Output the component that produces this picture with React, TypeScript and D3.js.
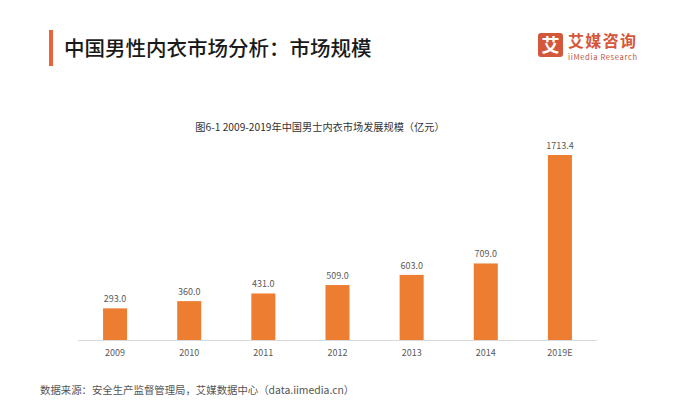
import React from "react";
import * as d3 from "d3";

const categories = ["2009", "2010", "2011", "2012", "2013", "2014", "2019E"];
const values = [293.0, 360.0, 431.0, 509.0, 603.0, 709.0, 1713.4];
const title = "中国男性内衣市场分析：市场规模";
const chartTitle = "图6-1 2009-2019年中国男士内衣市场发展规模（亿元）";
const source = "数据来源：安全生产监督管理局，艾媒数据中心（data.iimedia.cn）";

const W = 682;
const H = 405;
const baseY = 340;
const topY = 155;

export default function App() {
  const x = d3.scaleBand<string>().domain(categories).range([78, 597]).paddingInner(0.676).paddingOuter(0.338);
  const y = d3.scaleLinear().domain([0, 1713.4]).range([baseY, topY]);
  const font = "'Noto Sans CJK SC', 'Noto Sans', sans-serif";
  return (
    <svg width={W} height={H} style={{ position: "absolute", left: 0, top: 0, background: "#fff" }} fontFamily={font}>
      <rect x={0} y={0} width={W} height={H} fill="#fff" />
      <rect x={49} y={30} width={4} height={36} fill="#E8633A" />
      <text x={64} y={56} fontSize={20.5} fontWeight={500} fill="#1a1a1a">{title}</text>
      {/* logo */}
      <rect x={538} y={33} width={25} height={24} rx={3} fill="#D4573B" />
      <text x={550.5} y={52} fontSize={18} fontWeight={700} fill="#fff" textAnchor="middle">艾</text>
      <text x={568} y={46.5} fontSize={16} fontWeight={700} fill="#D4573B" textLength={68}>艾媒咨询</text>
      <text x={568} y={60} fontSize={7.5} fill="#C0533C" textLength={69}>iiMedia Research</text>
      <text x={320} y={131} fontSize={10.2} fill="#333" textAnchor="middle">{chartTitle}</text>
      <line x1={78} x2={597} y1={baseY + 0.5} y2={baseY + 0.5} stroke="#d9d9d9" strokeWidth={1} />
      {categories.map((c, i) => (
        <g key={c}>
          <rect x={x(c)} y={y(values[i])} width={x.bandwidth()} height={baseY - y(values[i])} fill="#ED7D31" />
          <text x={(x(c) as number) + x.bandwidth() / 2} y={y(values[i]) - 6} fontSize={9} fill="#595959" textAnchor="middle">{values[i].toFixed(1)}</text>
          <text x={(x(c) as number) + x.bandwidth() / 2} y={356} fontSize={9} fill="#595959" textAnchor="middle">{c}</text>
        </g>
      ))}
      <text x={40} y={394} fontSize={10.4} fill="#555">{source}</text>
    </svg>
  );
}
